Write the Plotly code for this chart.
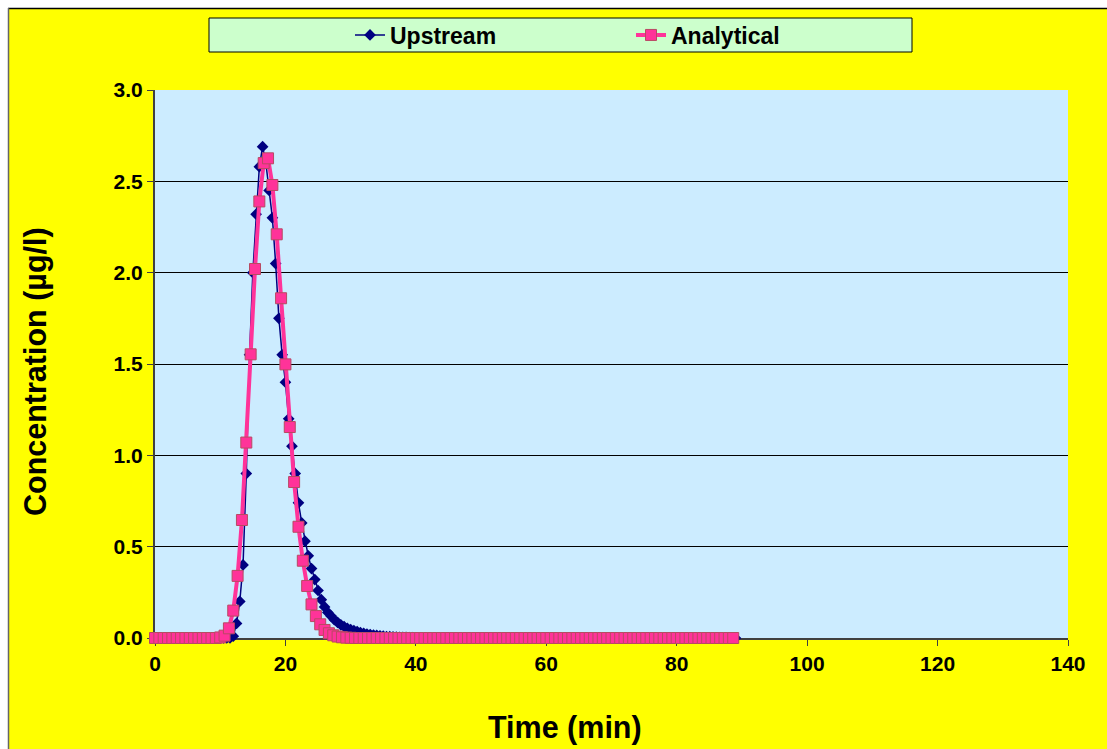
import numpy as np
import plotly.graph_objects as go

# Upstream record, sampled every 30 s (minutes)
upstream_time = np.arange(0, 89.01, 0.5)
upstream_rise_fall = [
    0.01, 0.08, 0.20, 0.40, 0.90, 1.55, 2.00, 2.32, 2.58, 2.69,
    2.60, 2.45, 2.30, 2.05, 1.75, 1.55, 1.40, 1.20, 1.05, 0.90,
    0.74, 0.63, 0.53, 0.45, 0.38, 0.32, 0.26, 0.21, 0.17, 0.14,
    0.12, 0.10, 0.085, 0.072, 0.062, 0.053, 0.046, 0.040, 0.035, 0.030,
    0.026, 0.022, 0.019, 0.016, 0.014, 0.012, 0.010, 0.008, 0.007, 0.006,
    0.005, 0.004, 0.003, 0.003, 0.002, 0.002, 0.001,
]
upstream_conc = [0.0] * 24 + upstream_rise_fall
upstream_conc += [0.0] * (len(upstream_time) - len(upstream_conc))

# Analytical solution, every 40 s (minutes)
analytical_time = np.arange(134) * 40 / 60
analytical_pulse = [
    0.003, 0.013, 0.053, 0.15, 0.34, 0.646, 1.07, 1.553, 2.02, 2.39,
    2.60, 2.626, 2.48, 2.21, 1.86, 1.498, 1.155, 0.854, 0.609, 0.423,
    0.285, 0.184, 0.12, 0.075, 0.044, 0.026, 0.015, 0.008, 0.004, 0.002,
    0.001,
]
analytical_conc = [0.0] * 15 + analytical_pulse
analytical_conc += [0.0] * (len(analytical_time) - len(analytical_conc))

x_ticks = [0, 20, 40, 60, 80, 100, 120, 140]
y_ticks = [0.0, 0.5, 1.0, 1.5, 2.0, 2.5, 3.0]

FONT = "Arial, 'Liberation Sans', sans-serif"
W, H = 1107, 749
ML, MR, MT, MB = 155, 39, 90, 111
PW, PH = W - ML - MR, H - MT - MB


def px_x(p):
    return (p - ML) / PW


def px_y(p):
    return (H - MB - p) / PH


fig = go.Figure()
fig.add_trace(go.Scatter(
    x=upstream_time, y=upstream_conc, name="Upstream",
    mode="lines+markers", cliponaxis=False,
    line=dict(color="#000080", width=1.5),
    marker=dict(symbol="diamond", size=9, color="#000080"),
))
fig.add_trace(go.Scatter(
    x=analytical_time, y=analytical_conc, name="Analytical",
    mode="lines+markers", cliponaxis=False,
    line=dict(color="#FF3399", width=4),
    marker=dict(symbol="square", size=11, color="#FF3399",
                line=dict(color="#B84A62", width=1)),
))

shapes = [
    # legend box
    dict(type="rect", xref="paper", yref="paper",
         x0=px_x(209), x1=px_x(912), y0=px_y(52), y1=px_y(18),
         fillcolor="#CCFFCC", line=dict(color="#000000", width=1), layer="below"),
    # white page margin around the chart area
    dict(type="rect", xref="paper", yref="paper",
         x0=px_x(-5), x1=px_x(W + 5), y0=px_y(8), y1=px_y(-5),
         fillcolor="#FFFFFF", line=dict(width=0), layer="above"),
    dict(type="rect", xref="paper", yref="paper",
         x0=px_x(-5), x1=px_x(8), y0=px_y(H + 5), y1=px_y(-5),
         fillcolor="#FFFFFF", line=dict(width=0), layer="above"),
    dict(type="line", xref="paper", yref="paper",
         x0=px_x(8), x1=px_x(W + 5), y0=px_y(8.5), y1=px_y(8.5),
         line=dict(color="#000000", width=1.5), layer="above"),
    dict(type="line", xref="paper", yref="paper",
         x0=px_x(8.5), x1=px_x(8.5), y0=px_y(8), y1=px_y(H + 5),
         line=dict(color="#666666", width=1.5), layer="above"),
]

title_font = dict(family=FONT, size=30.5, color="#000000", weight="bold")
annotations = [
    dict(text="Time (min)", xref="paper", yref="paper",
         x=px_x(565), y=px_y(727), xanchor="center", yanchor="middle",
         showarrow=False, font=title_font),
    dict(text="Concentration (µg/l)", xref="paper", yref="paper",
         x=px_x(35), y=px_y(372), xanchor="center", yanchor="middle",
         textangle=-90, showarrow=False, font=title_font),
]

fig.update_layout(
    width=W, height=H,
    margin=dict(l=ML, r=MR, t=MT, b=MB, autoexpand=False),
    paper_bgcolor="#FFFF00",
    plot_bgcolor="#CCECFF",
    font=dict(family=FONT, color="#000000"),
    shapes=shapes,
    annotations=annotations,
    showlegend=True,
    legend=dict(
        orientation="h", x=px_x(350), y=px_y(35),
        xanchor="left", yanchor="middle",
        bgcolor="rgba(0,0,0,0)", borderwidth=0,
        entrywidth=236, entrywidthmode="pixels",
        font=dict(family=FONT, size=23, color="#000000", weight="bold"),
        itemclick=False, itemdoubleclick=False,
    ),
)

fig.update_xaxes(
    range=[0, 140], tickvals=x_ticks, ticktext=[str(v) for v in x_ticks],
    showgrid=False, zeroline=False,
    showline=True, linecolor="#404040", linewidth=2,
    ticks="outside", ticklen=6, tickcolor="#404040", tickwidth=1,
    tickfont=dict(family=FONT, size=21, weight="bold"),
    layer="below traces", fixedrange=True,
)
fig.update_yaxes(
    range=[0, 3], tickvals=y_ticks, ticktext=[f"{v:.1f}" for v in y_ticks],
    showgrid=True, gridcolor="#000000", gridwidth=1, zeroline=False,
    showline=True, linecolor="#404040", linewidth=2,
    ticks="outside", ticklen=6, tickcolor="#404040", tickwidth=1,
    tickfont=dict(family=FONT, size=21, weight="bold"),
    layer="below traces", fixedrange=True,
)

fig.write_html("out.html", config={"displayModeBar": False})
